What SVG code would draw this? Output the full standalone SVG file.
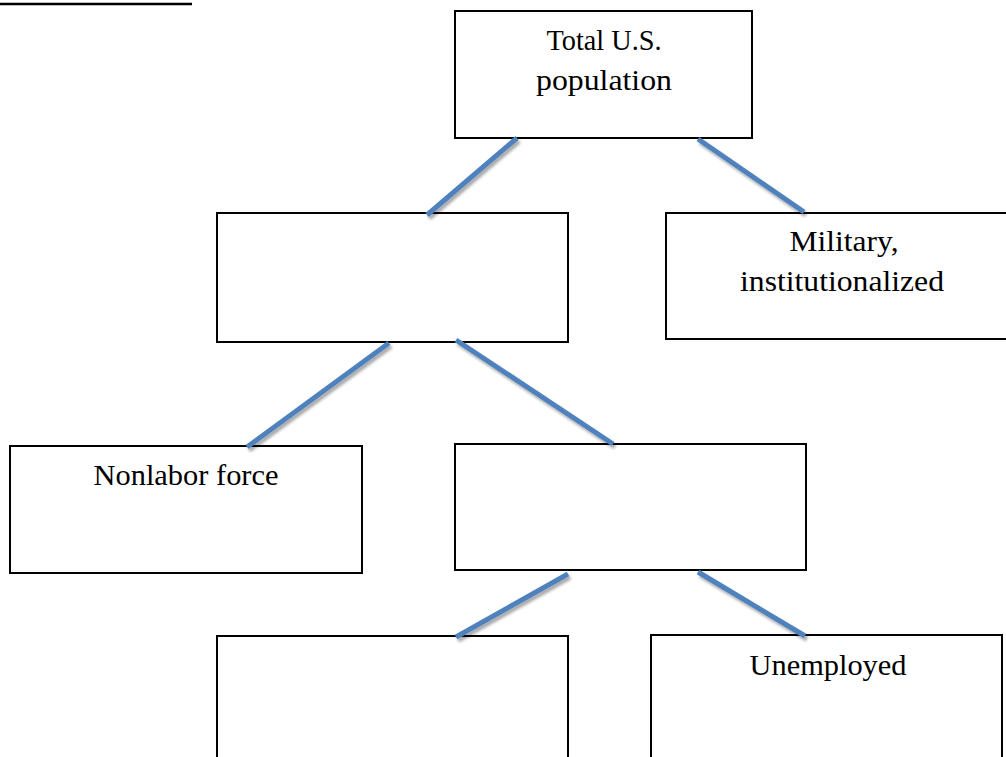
<svg xmlns="http://www.w3.org/2000/svg" width="1006" height="757" viewBox="0 0 1006 757">
  <style>
    .box { fill: #ffffff; stroke: #000000; stroke-width: 2; }
    .lbl { font-family: "Liberation Serif", "Times New Roman", serif; font-size: 30px; fill: #000000; text-anchor: middle; }
    .conn { stroke: #4F81BD; stroke-width: 5; fill: none; }
  </style>
  <defs>
    <filter id="shadow" x="-20%" y="-20%" width="140%" height="140%">
      <feGaussianBlur in="SourceAlpha" stdDeviation="1.5"/>
      <feOffset dx="1.5" dy="2.5" result="off"/>
      <feComponentTransfer><feFuncA type="linear" slope="0.35"/></feComponentTransfer>
      <feMerge><feMergeNode/><feMergeNode in="SourceGraphic"/></feMerge>
    </filter>
  </defs>
  <rect width="1006" height="757" fill="#ffffff"/>
  <line x1="0" y1="4" x2="192" y2="4" stroke="#000000" stroke-width="2.5"/>

  <g id="node-total">
    <rect class="box" x="455" y="11" width="297" height="127"/>
    <text class="lbl" x="604" y="50" textLength="115" lengthAdjust="spacingAndGlyphs">Total U.S.</text>
    <text class="lbl" x="604" y="90" textLength="136" lengthAdjust="spacingAndGlyphs">population</text>
  </g>
  <g id="node-civilian">
    <rect class="box" x="217" y="213" width="351" height="129"/>
  </g>
  <g id="node-military">
    <rect class="box" x="666" y="213" width="352" height="126"/>
    <text class="lbl" x="844" y="251" textLength="109" lengthAdjust="spacingAndGlyphs">Military,</text>
    <text class="lbl" x="842" y="291" textLength="204" lengthAdjust="spacingAndGlyphs">institutionalized</text>
  </g>
  <g id="node-nonlabor">
    <rect class="box" x="10" y="446" width="352" height="127"/>
    <text class="lbl" x="186" y="485" textLength="185" lengthAdjust="spacingAndGlyphs">Nonlabor force</text>
  </g>
  <g id="node-laborforce">
    <rect class="box" x="455" y="444" width="351" height="126"/>
  </g>
  <g id="node-employed">
    <rect class="box" x="217" y="636" width="351" height="140"/>
  </g>
  <g id="node-unemployed">
    <rect class="box" x="651" y="635" width="351" height="140"/>
    <text class="lbl" x="828" y="675" textLength="157" lengthAdjust="spacingAndGlyphs">Unemployed</text>
  </g>

  <g id="connectors" filter="url(#shadow)">
    <line class="conn" x1="517" y1="138" x2="427" y2="215"/>
    <line class="conn" x1="698" y1="139" x2="804" y2="212"/>
    <line class="conn" x1="389" y1="343" x2="247" y2="447"/>
    <line class="conn" x1="456" y1="340" x2="613" y2="444"/>
    <line class="conn" x1="568" y1="574" x2="456" y2="637"/>
    <line class="conn" x1="698" y1="572" x2="805" y2="636"/>
  </g>
</svg>
